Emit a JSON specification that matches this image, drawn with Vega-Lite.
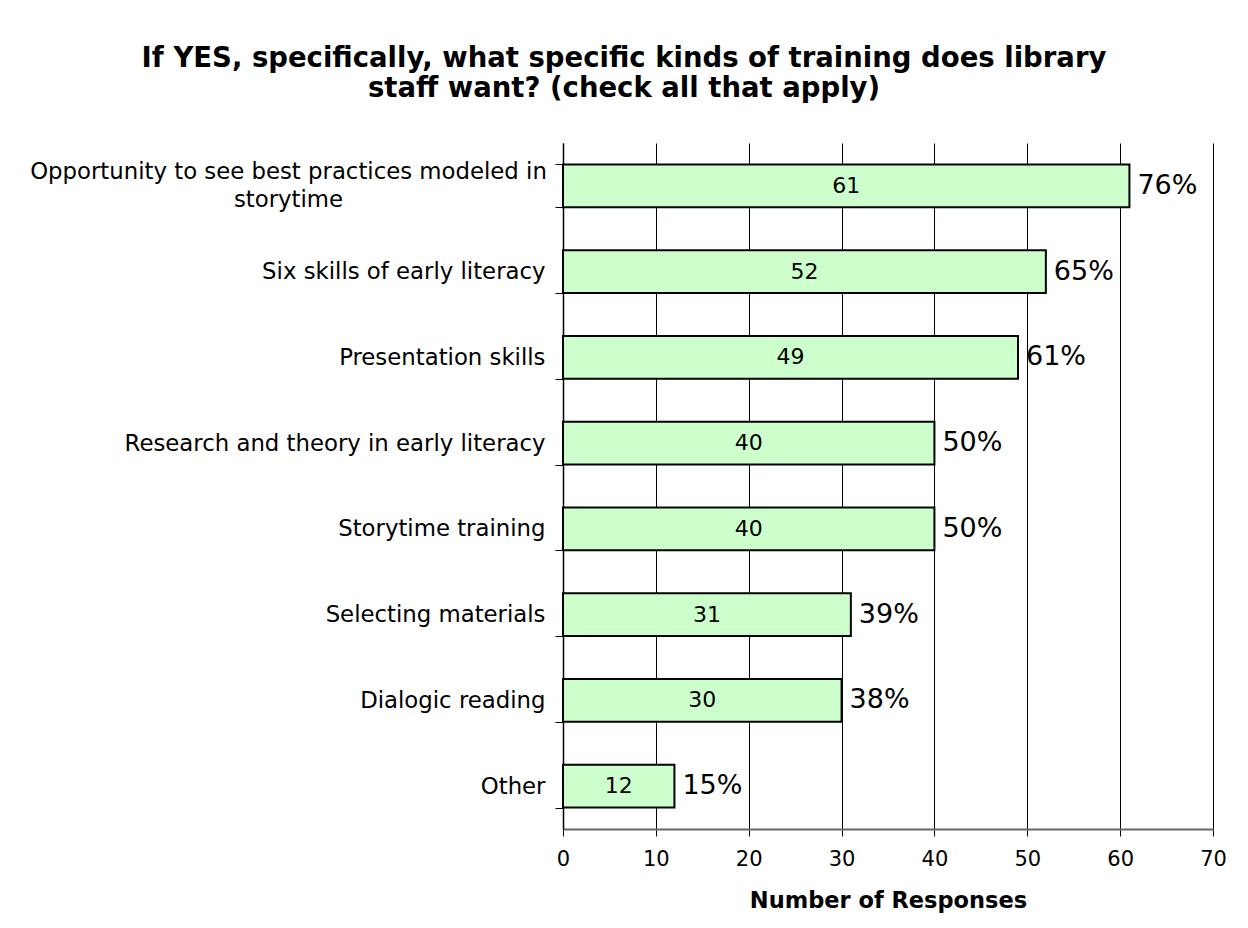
{
  "$schema": "https://vega.github.io/schema/vega-lite/v6.json",
  "autosize": {"type": "none"},
  "width": 650,
  "height": 686,
  "padding": {"left": 563, "top": 143, "right": 35, "bottom": 99},
  "background": "white",
  "config": {
    "font": "DejaVu Sans",
    "view": {"stroke": null}
  },
  "title": {
    "text": ["If YES, specifically, what specific kinds of training does library", "staff want? (check all that apply)"],
    "font": "DejaVu Sans",
    "fontSize": 27.5,
    "fontWeight": "bold",
    "color": "black",
    "lineHeight": 30,
    "anchor": "middle",
    "frame": "group",
    "dx": -264,
    "offset": 30
  },
  "data": {
    "values": [
      {"category": "Opportunity to see best practices modeled in storytime", "count": 61, "pct": "76%"},
      {"category": "Six skills of early literacy", "count": 52, "pct": "65%"},
      {"category": "Presentation skills", "count": 49, "pct": "61%"},
      {"category": "Research and theory in early literacy", "count": 40, "pct": "50%"},
      {"category": "Storytime training", "count": 40, "pct": "50%"},
      {"category": "Selecting materials", "count": 31, "pct": "39%"},
      {"category": "Dialogic reading", "count": 30, "pct": "38%"},
      {"category": "Other", "count": 12, "pct": "15%"}
    ]
  },
  "encoding": {
    "y": {
      "field": "category",
      "type": "nominal",
      "sort": null,
      "scale": {"paddingInner": 0.5, "paddingOuter": 0.25},
      "axis": {
        "title": null,
        "tickBand": "extent",
        "tickSize": 8,
        "tickColor": "black",
        "domainColor": "black",
        "domainWidth": 1.5,
        "labelPadding": {"condition": {"test": "datum.value == 'Opportunity to see best practices modeled in storytime'", "value": 267}, "value": 10},
        "labelAlign": {"condition": {"test": "datum.value == 'Opportunity to see best practices modeled in storytime'", "value": "center"}, "value": "right"},
        "labelOffset": {"condition": {"test": "datum.value == 'Opportunity to see best practices modeled in storytime'", "value": -14}, "value": 0},
        "labelFontSize": 22.8,
        "labelColor": "black",
        "labelLimit": 0,
        "labelLineHeight": 28,
        "labelExpr": "datum.value == 'Opportunity to see best practices modeled in storytime' ? ['Opportunity to see best practices modeled in', 'storytime'] : datum.value"
      }
    }
  },
  "layer": [
    {
      "mark": {"type": "bar", "fill": "#CCFFCC", "stroke": "black", "strokeWidth": 2},
      "encoding": {
        "x": {
          "field": "count",
          "type": "quantitative",
          "scale": {"domain": [0, 70]},
          "axis": {
            "title": "Number of Responses",
            "titleFontSize": 22.5,
            "titleFontWeight": "bold",
            "titleColor": "black",
            "titlePadding": 20,
            "values": [0, 10, 20, 30, 40, 50, 60, 70],
            "grid": true,
            "gridColor": "black",
            "gridWidth": 1,
            "tickSize": 7,
            "tickColor": "black",
            "domainColor": "#666666",
            "domainWidth": 2,
            "labelFontSize": 21,
            "labelColor": "black",
            "labelPadding": 12,
            "labelFlush": false
          }
        }
      }
    },
    {
      "mark": {"type": "text", "fontSize": 22, "color": "black", "align": "center", "baseline": "middle"},
      "encoding": {
        "x": {"field": "count", "type": "quantitative", "scale": {"domain": [0, 140], "nice": false}, "axis": null},
        "text": {"field": "count", "type": "quantitative"}
      }
    },
    {
      "mark": {"type": "text", "fontSize": 27, "color": "black", "align": "left", "baseline": "middle", "dx": 8},
      "encoding": {
        "x": {"field": "count", "type": "quantitative", "scale": {"domain": [0, 70], "nice": false}, "axis": null},
        "text": {"field": "pct", "type": "nominal"}
      }
    }
  ],
  "resolve": {"scale": {"x": "independent"}}
}
